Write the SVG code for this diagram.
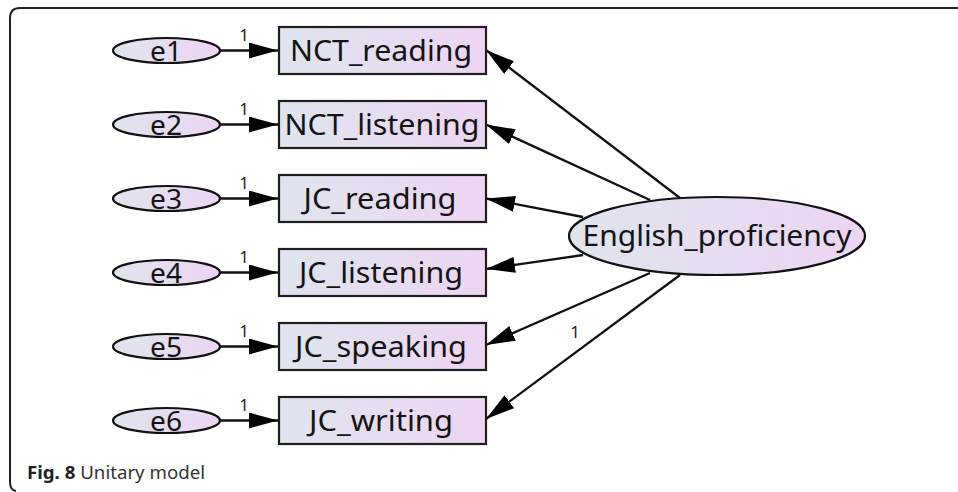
<svg xmlns="http://www.w3.org/2000/svg" width="958" height="492" viewBox="0 0 958 492">
  <style>
    .obs { fill: url(#fillGrad); stroke: #1e1e1e; stroke-width: 2.2; }
    .lat { fill: url(#fillGrad); stroke: #111; stroke-width: 2.2; }
    .lbl { font-family: "Noto Sans", "Open Sans", "DejaVu Sans", sans-serif; font-size: 29px; fill: #141414; text-anchor: middle; }
    .elbl { font-family: "Noto Sans", "Open Sans", "DejaVu Sans", sans-serif; font-size: 28px; fill: #141414; text-anchor: middle; }
    .w { font-family: "Noto Sans", "Open Sans", "DejaVu Sans", sans-serif; font-size: 17px; fill: #222; text-anchor: middle; }
    .edge { stroke: #111; stroke-width: 2.3; fill: none; marker-end: url(#arrow); }
    .frame { stroke: #222; stroke-width: 2; fill: none; }
    .cap { font-family: "Noto Sans", "Open Sans", "DejaVu Sans", sans-serif; font-size: 17.5px; fill: #333; }
  </style>
  <defs>
    <linearGradient id="fillGrad" x1="0" y1="0" x2="1" y2="0">
      <stop offset="0" stop-color="#dfe5ee"/>
      <stop offset="1" stop-color="#edd5f3"/>
    </linearGradient>
    <marker id="arrow" markerUnits="userSpaceOnUse" markerWidth="30" markerHeight="18" refX="29" refY="8" orient="auto">
      <path d="M0,0 L29,8 L0,16 Z" fill="#000"/>
    </marker>
  </defs>

  <rect width="958" height="492" fill="#fff"/>
  <path class="frame" d="M958,8 H20 Q10,8 10,18 V482 Q10,490 16,491"/>

  <g id="connectors">
    <line class="edge" x1="220" y1="50.5" x2="278" y2="50.5"/>
    <line class="edge" x1="220" y1="124.5" x2="278" y2="124.5"/>
    <line class="edge" x1="220" y1="198.5" x2="278" y2="198.5"/>
    <line class="edge" x1="220" y1="272.5" x2="278" y2="272.5"/>
    <line class="edge" x1="220" y1="346.5" x2="278" y2="346.5"/>
    <line class="edge" x1="220" y1="420.5" x2="278" y2="420.5"/>
    <line class="edge" x1="680" y1="198" x2="486" y2="50"/>
    <line class="edge" x1="650" y1="200" x2="486" y2="124.5"/>
    <line class="edge" x1="583" y1="217" x2="486" y2="198.5"/>
    <line class="edge" x1="583" y1="255" x2="486" y2="269"/>
    <line class="edge" x1="650" y1="273" x2="486" y2="345"/>
    <line class="edge" x1="680" y1="275" x2="486" y2="419"/>
    <text class="w" x="244" y="41">1</text>
    <text class="w" x="244" y="115">1</text>
    <text class="w" x="244" y="189">1</text>
    <text class="w" x="244" y="263">1</text>
    <text class="w" x="244" y="337">1</text>
    <text class="w" x="244" y="411">1</text>
    <text class="w" x="575" y="338">1</text>
  </g>

  <g id="e1"><ellipse class="lat" cx="166.5" cy="50.5" rx="53.5" ry="12.5"/><text class="elbl" x="166" y="60.5" textLength="32" lengthAdjust="spacingAndGlyphs">e1</text></g>
  <g id="e2"><ellipse class="lat" cx="166.5" cy="124.5" rx="53.5" ry="12.5"/><text class="elbl" x="166" y="134.5" textLength="32" lengthAdjust="spacingAndGlyphs">e2</text></g>
  <g id="e3"><ellipse class="lat" cx="166.5" cy="198.5" rx="53.5" ry="12.5"/><text class="elbl" x="166" y="208.5" textLength="32" lengthAdjust="spacingAndGlyphs">e3</text></g>
  <g id="e4"><ellipse class="lat" cx="166.5" cy="272.5" rx="53.5" ry="12.5"/><text class="elbl" x="166" y="282.5" textLength="32" lengthAdjust="spacingAndGlyphs">e4</text></g>
  <g id="e5"><ellipse class="lat" cx="166.5" cy="346.5" rx="53.5" ry="12.5"/><text class="elbl" x="166" y="356.5" textLength="32" lengthAdjust="spacingAndGlyphs">e5</text></g>
  <g id="e6"><ellipse class="lat" cx="166.5" cy="420.5" rx="53.5" ry="12.5"/><text class="elbl" x="166" y="430.5" textLength="32" lengthAdjust="spacingAndGlyphs">e6</text></g>

  <g id="NCT_reading"><rect class="obs" x="279" y="27" width="207" height="47"/><text class="lbl" x="381" y="60.5" textLength="182" lengthAdjust="spacingAndGlyphs">NCT_reading</text></g>
  <g id="NCT_listening"><rect class="obs" x="279" y="101" width="207" height="47"/><text class="lbl" x="382" y="134.5" textLength="195" lengthAdjust="spacingAndGlyphs">NCT_listening</text></g>
  <g id="JC_reading"><rect class="obs" x="279" y="175" width="207" height="47"/><text class="lbl" x="380" y="208.5" textLength="153" lengthAdjust="spacingAndGlyphs">JC_reading</text></g>
  <g id="JC_listening"><rect class="obs" x="279" y="249" width="207" height="47"/><text class="lbl" x="381" y="282.5" textLength="164" lengthAdjust="spacingAndGlyphs">JC_listening</text></g>
  <g id="JC_speaking"><rect class="obs" x="279" y="323" width="207" height="47"/><text class="lbl" x="381" y="356.5" textLength="172" lengthAdjust="spacingAndGlyphs">JC_speaking</text></g>
  <g id="JC_writing"><rect class="obs" x="279" y="397" width="207" height="47"/><text class="lbl" x="381" y="430.5" textLength="144" lengthAdjust="spacingAndGlyphs">JC_writing</text></g>

  <g id="English_proficiency"><ellipse class="lat" cx="717" cy="236" rx="148" ry="39"/><text class="lbl" x="717" y="246" textLength="269" lengthAdjust="spacingAndGlyphs">English_proficiency</text></g>

  <text class="cap" x="27" y="479" textLength="178" lengthAdjust="spacingAndGlyphs"><tspan font-weight="bold" fill="#222">Fig. 8</tspan> Unitary model</text>
</svg>
